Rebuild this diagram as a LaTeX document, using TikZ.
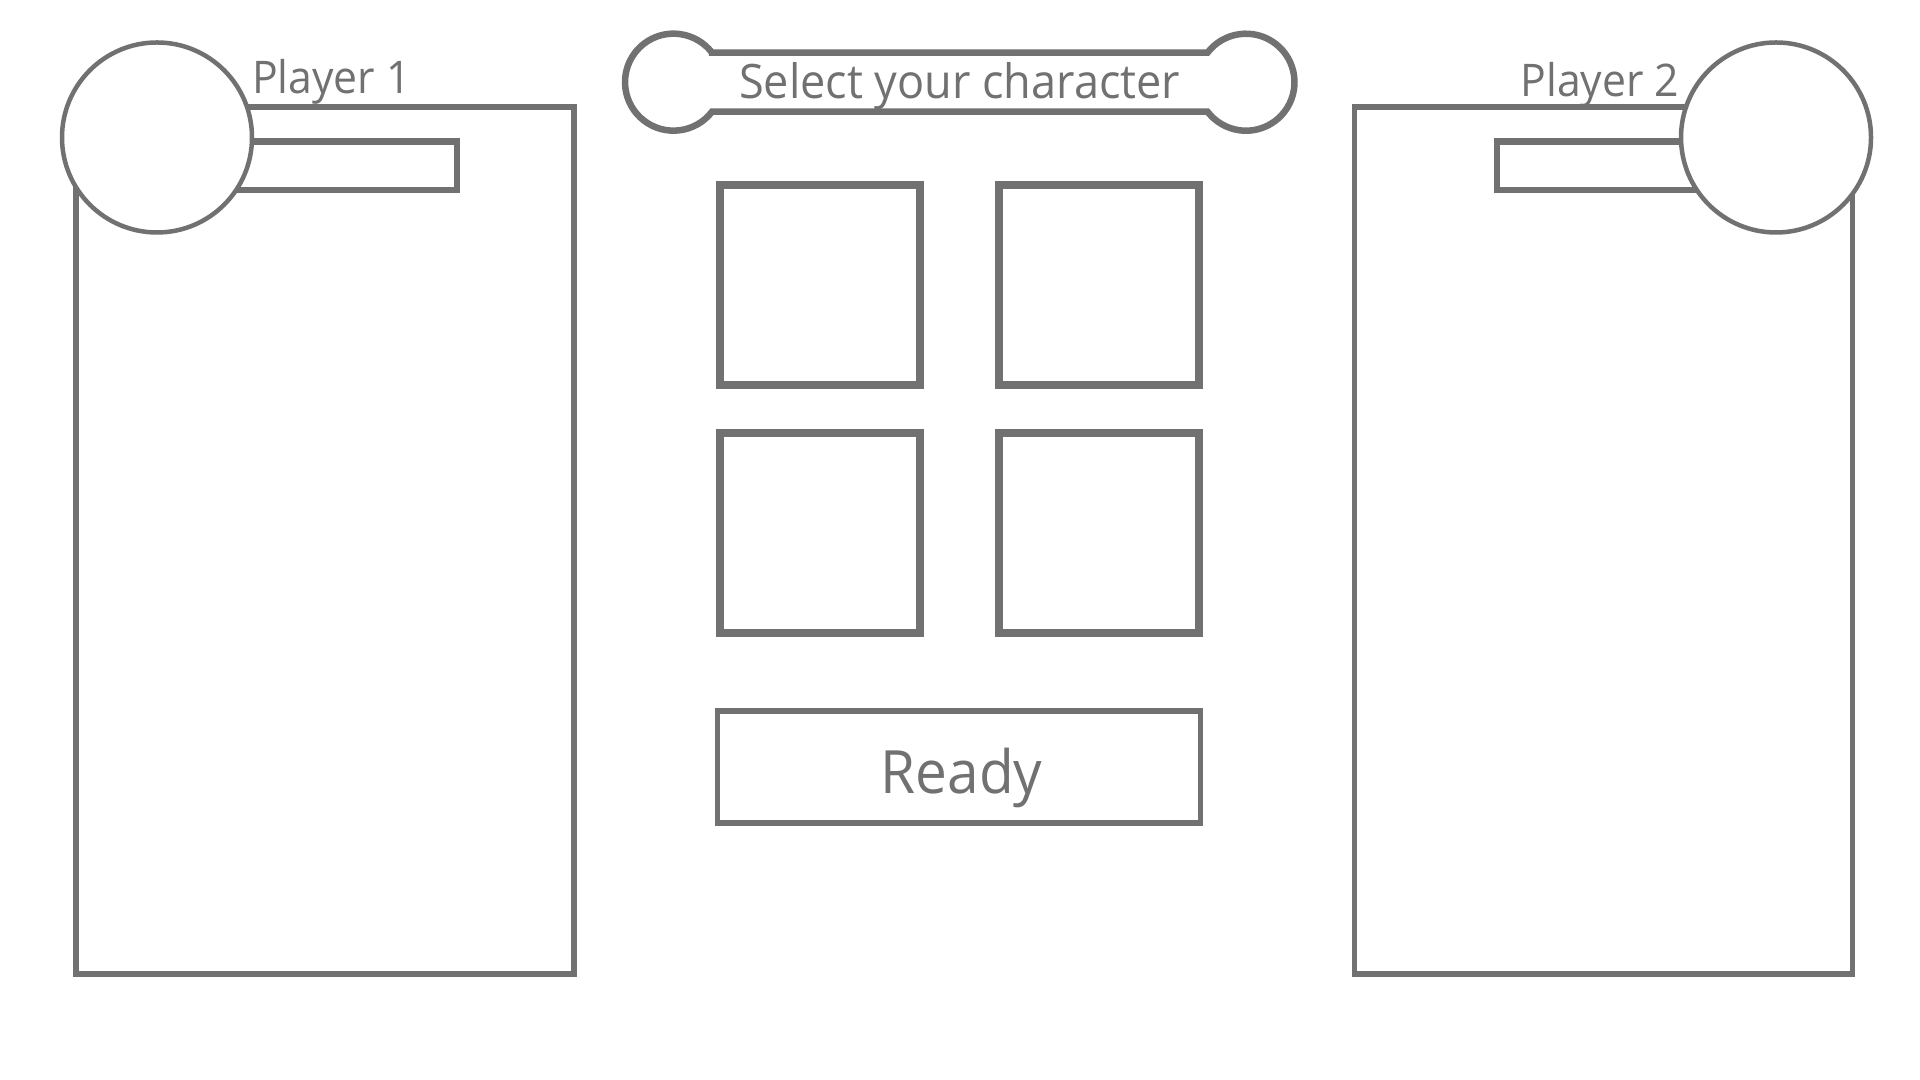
\documentclass[tikz,border=0pt]{standalone}
\usepackage{fontspec}
\setmainfont{Open Sans}[FakeStretch=0.95]
\definecolor{uigray}{RGB}{113,113,113}

\tikzset{
    panel/.style={draw=uigray,line width=1.56pt,inner sep=0,
        minimum width=4.98cm,minimum height=8.67cm},
    namebar/.style={draw=uigray,line width=1.85pt,inner sep=0,
        minimum height=0.485cm},
    avatar/.style={circle,draw=uigray,fill=white,line width=1.28pt,
        inner sep=0,minimum size=1.9cm},
    slot/.style={draw=uigray,line width=2.28pt,inner sep=0,minimum size=2cm},
    button/.style={draw=uigray,line width=1.56pt,inner sep=0,
        minimum width=4.83cm,minimum height=1.12cm},
    caption/.style={text=uigray,anchor=base,inner sep=0,
        font=\fontsize{12.8}{15}\selectfont},
}

\begin{document}
\begin{tikzpicture}
    \fill [white] (0,0) rectangle (19.2,10.8);
    \useasboundingbox (0,0) rectangle (19.2,10.8);
    % player 1
    \path ( 3.249,5.397) node [panel] (panel1) {};
    \path ( 3.070,9.142) node [namebar,minimum width=3cm] (bar1) {};
    \path ( 1.570,9.425) node [avatar] (avatar1) {};
    \path ( 3.315,9.867) node [caption] (name1) {Player 1};
    % player 2
    \path (16.035,5.397) node [panel] (panel2) {};
    \path (16.365,9.142) node [namebar,minimum width=2.79cm] (bar2) {};
    \path (17.760,9.425) node [avatar] (avatar2) {};
    \path (16.000,9.833) node [caption] (name2) {Player 2};
    % title
    \draw [uigray,line width=1.85pt,fill=white]
        (7.120,10.273) -- (12.075,10.273)
        arc [start angle=142.5,end angle=-142.5,radius=0.485]
        -- (7.120,9.683)
        arc [start angle=-37.5,end angle=-322.5,radius=0.485] -- cycle;
    \path ( 9.597,9.810) node [caption,font=\fontsize{13.5}{16}\selectfont]
        (title) {Select your character};
    % character slots
    \path ( 8.200,7.945) node [slot] (slot1) {};
    \path (10.990,7.945) node [slot] (slot2) {};
    \path ( 8.200,5.465) node [slot] (slot3) {};
    \path (10.990,5.465) node [slot] (slot4) {};
    % ready button
    \path ( 9.590,3.130) node [button] (ready) {};
    \path ( 9.615,2.860) node [caption,font=\fontsize{17}{20}\selectfont]
        (readytext) {Ready};
\end{tikzpicture}
\end{document}
